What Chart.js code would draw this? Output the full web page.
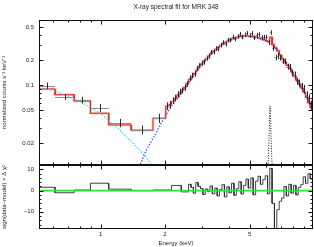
<!DOCTYPE html>
<html>
<head>
<meta charset="utf-8">
<script src="https://cdn.jsdelivr.net/npm/chart.js@4"></script>
<style>
html, body { margin: 0; padding: 0; background: #fff; }
#wrap { width: 314px; height: 247px; }
</style>
</head>
<body>
<div id="wrap"><canvas id="spec" width="314" height="247"></canvas></div>
<script>
// -----------------------------------------------------------------
// axis ranges / tick labels
// -----------------------------------------------------------------
const xMin = 0.513, xMax = 9.93;
const yMin = 0.01086, yMax = 0.607;
const resMin = -18.1, resMax = 12.1;

const xLabelTicks = [1, 2, 5];
const xMinorTicks = [0.6, 0.7, 0.8, 0.9, 3, 4, 6, 7, 8, 9];
const yLabelTicks = [0.02, 0.05, 0.1, 0.2, 0.5];
const yMinorTicks = [0.03, 0.04, 0.06, 0.07, 0.08, 0.09, 0.3, 0.4];
const resLabelTicks = [-10, 0, 10];

// -----------------------------------------------------------------
// soft band: wide bins (edges), data, errors, folded model, residuals
// -----------------------------------------------------------------
const lowEdges = [0.513, 0.61, 0.75, 0.895, 1.09, 1.39, 1.76, 2.02, 2.09];
const lowData  = [0.098, 0.072, 0.066, 0.053, 0.035, 0.029, 0.040, 0.056];
const lowErr   = [0.009, 0.006, 0.006, 0.006, 0.004, 0.0035, 0.005, 0.006];
const lowModel = [0.0895, 0.0764, 0.064, 0.0456, 0.033, 0.0285, 0.0397, 0.0558];
const lowRes   = [1.6, -1.0, 0.3, 3.5, 0.7, 0.0, 0.3, 0.3];

// hard band: bin centres (keV)
const hiEnergy = [2.12, 2.18, 2.24, 2.30, 2.36, 2.42, 2.48, 2.55, 2.62, 2.69,
                  2.76, 2.83, 2.90, 2.98, 3.06, 3.14, 3.22, 3.30, 3.39, 3.48,
                  3.57, 3.66, 3.76, 3.86, 3.96, 4.06, 4.17, 4.28, 4.39, 4.51,
                  4.63, 4.75, 4.87, 5.00, 5.13, 5.27, 5.41, 5.55, 5.70, 5.85,
                  6.00, 6.15, 6.30, 6.46, 6.63, 6.80, 6.98, 7.16, 7.35, 7.54,
                  7.74, 7.94, 8.15, 8.36, 8.58, 8.81, 9.04, 9.28, 9.52, 9.77];
const hiData = [0.058, 0.065, 0.070, 0.077, 0.083, 0.086, 0.093, 0.103, 0.121, 0.130,
                0.136, 0.159, 0.171, 0.183, 0.189, 0.210, 0.222, 0.248, 0.250, 0.275,
                0.273, 0.302, 0.326, 0.311, 0.349, 0.347, 0.380, 0.358, 0.384, 0.410,
                0.380, 0.405, 0.422, 0.396, 0.421, 0.370, 0.401, 0.407, 0.376, 0.378,
                0.378, 0.326, 0.430, 0.278, 0.215, 0.223, 0.213, 0.194, 0.194, 0.167,
                0.165, 0.140, 0.133, 0.111, 0.105, 0.096, 0.090, 0.075, 0.068, 0.057];
const hiErr = [0.006, 0.006, 0.006, 0.007, 0.007, 0.007, 0.008, 0.008, 0.009, 0.010,
               0.010, 0.011, 0.012, 0.013, 0.013, 0.014, 0.015, 0.016, 0.017, 0.018,
               0.018, 0.019, 0.020, 0.020, 0.021, 0.021, 0.022, 0.022, 0.023, 0.024,
               0.023, 0.024, 0.025, 0.024, 0.025, 0.023, 0.024, 0.025, 0.023, 0.024,
               0.024, 0.022, 0.026, 0.020, 0.017, 0.017, 0.016, 0.015, 0.015, 0.014,
               0.014, 0.013, 0.012, 0.011, 0.011, 0.010, 0.010, 0.009, 0.009, 0.008];
const hiModel = [0.058, 0.063, 0.068, 0.074, 0.080, 0.087, 0.094, 0.104, 0.116, 0.127,
                 0.138, 0.150, 0.166, 0.180, 0.194, 0.208, 0.224, 0.240, 0.256, 0.270,
                 0.284, 0.300, 0.313, 0.326, 0.340, 0.352, 0.361, 0.370, 0.379, 0.386,
                 0.389, 0.390, 0.390, 0.389, 0.386, 0.381, 0.376, 0.369, 0.360, 0.351,
                 0.342, 0.334, 0.378, 0.306, 0.280, 0.258, 0.230, 0.205, 0.188, 0.173,
                 0.158, 0.143, 0.128, 0.114, 0.103, 0.092, 0.082, 0.071, 0.061, 0.053];
const hiRes = [0.3, 2.4, 2.4, 2.4, 2.4, -0.6, -0.6, -0.6, 3.0, 1.5,
               -1.2, 3.8, 2.0, 1.0, -1.8, 0.8, -0.5, 2.2, -1.5, 1.2,
               -2.5, 0.5, 2.8, -3.0, 1.8, -1.0, 3.5, -2.2, 0.9, 4.2,
               -1.6, 2.5, 5.5, 1.2, 6.0, -2.0, 4.5, 6.8, 3.0, 5.2,
               7.0, -1.5, 10.5, -6.0, -18, -9, -5, -3.5, 2.0, -2.5,
               3.0, -1.2, 2.5, -2.0, 1.5, 2.8, 6.5, 3.5, 8.0, 5.5];

// model components (unfolded)
const softE = [0.513, 0.58, 0.61, 0.80, 0.99, 1.19, 1.42, 1.60, 1.735, 1.80];
const softY = [0.092, 0.088, 0.085, 0.063, 0.046, 0.031, 0.0198, 0.0145, 0.0108, 0.0095];
const powE = [1.50, 1.53, 1.64, 1.83, 1.90, 2.12, 2.36, 2.63, 2.93, 3.26, 3.63,
              4.05, 4.51, 5.02, 5.60, 6.20, 6.70, 7.17, 7.74, 8.32, 8.94, 9.89];
const powY = [0.0095, 0.0109, 0.0167, 0.027, 0.033, 0.053, 0.076, 0.112, 0.168, 0.232, 0.294,
              0.347, 0.383, 0.385, 0.362, 0.326, 0.268, 0.203, 0.157, 0.113, 0.086, 0.049];
const lineE = [6.05, 6.12, 6.17, 6.21, 6.24, 6.27, 6.31, 6.36, 6.43];
const lineY = [0.008, 0.012, 0.022, 0.043, 0.056, 0.045, 0.024, 0.013, 0.008];

// -----------------------------------------------------------------
// bins table
// -----------------------------------------------------------------
const bins = [];
lowData.forEach((d, i) => {
    const lo = lowEdges[i], hi = lowEdges[i + 1];
    bins.push({ lo, hi, x: Math.sqrt(lo * hi), y: d, err: lowErr[i], model: lowModel[i], res: lowRes[i] });
});
hiEnergy.forEach((e, i) => {
    const lo = i === 0 ? lowEdges[lowEdges.length - 1] : Math.sqrt(hiEnergy[i - 1] * e);
    const hi = i === hiEnergy.length - 1 ? xMax : Math.sqrt(e * hiEnergy[i + 1]);
    bins.push({ lo, hi, x: e, y: hiData[i], err: hiErr[i], model: hiModel[i], res: hiRes[i] });
});

const stepPts = key => bins.flatMap(b => [{ x: b.lo, y: b[key] }, { x: b.hi, y: b[key] }]);
const pairs = (xs, ys) => xs.map((v, i) => ({ x: v, y: ys[i] }));

const FONT = "'Liberation Sans', Arial, sans-serif";
const INK = '#222';

// clip every dataset to its own panel
const panelClip = {
    id: 'panelClip',
    beforeDatasetDraw(chart, args) {
        const ys = args.meta.yScale, a = chart.chartArea;
        chart.ctx.save();
        chart.ctx.beginPath();
        chart.ctx.rect(a.left, ys.top, a.right - a.left, ys.bottom - ys.top);
        chart.ctx.clip();
    },
    afterDatasetDraw(chart) { chart.ctx.restore(); }
};

// data crosses (bin width x error)
const crosses = {
    id: 'crosses',
    afterDatasetsDraw(chart) {
        const { ctx, scales: { x, y } } = chart;
        ctx.save();
        ctx.lineWidth = 1;
        bins.forEach(b => {
            const py = Math.round(y.getPixelForValue(b.y)) + 0.5;
            const cx = Math.round(x.getPixelForValue(b.x)) + 0.5;
            ctx.strokeStyle = '#8c8c8c';
            ctx.beginPath();
            ctx.moveTo(x.getPixelForValue(b.lo), py);
            ctx.lineTo(x.getPixelForValue(b.hi), py);
            ctx.stroke();
            ctx.strokeStyle = '#2a2a2a';
            ctx.beginPath();
            ctx.moveTo(cx, y.getPixelForValue(b.y - b.err));
            ctx.lineTo(cx, y.getPixelForValue(b.y + b.err));
            ctx.stroke();
        });
        ctx.restore();
    }
};

// box round each panel + inward ticks on every side
const frame = {
    id: 'frame',
    afterDraw(chart) {
        const { ctx, chartArea: a, scales } = chart;
        const x = scales.x;
        const L = Math.round(a.left) + 0.5, R = Math.round(a.right) - 0.5;
        ctx.save();
        ctx.strokeStyle = '#111';
        ctx.lineWidth = 1;
        const resMinor = [];
        for (let v = -18; v <= 12; v += 2) resMinor.push(v);
        const panels = [
            { s: scales.y, major: yLabelTicks, minor: yMinorTicks },
            { s: scales.res, major: resLabelTicks, minor: resMinor }
        ];
        const line = (x1, y1, x2, y2) => { ctx.beginPath(); ctx.moveTo(x1, y1); ctx.lineTo(x2, y2); ctx.stroke(); };
        panels.forEach(p => {
            const T = Math.round(p.s.top) + 0.5, B = Math.round(p.s.bottom) - 0.5;
            ctx.strokeRect(L, T, R - L, B - T);
            const xt = (v, len) => {
                const px = Math.round(x.getPixelForValue(v)) + 0.5;
                line(px, T, px, T + len);
                line(px, B, px, B - len);
            };
            xLabelTicks.forEach(v => xt(v, 4));
            xMinorTicks.forEach(v => xt(v, 2));
            const yt = (v, len) => {
                const py = Math.round(p.s.getPixelForValue(v)) + 0.5;
                if (py < T || py > B) return;
                line(L, py, L + len, py);
                line(R, py, R - len, py);
            };
            p.major.forEach(v => yt(v, 4));
            p.minor.forEach(v => yt(v, 2));
        });
        ctx.restore();
    }
};

const tickFont = { family: FONT, size: 6 };
const titleFont = { family: FONT, size: 6 };

new Chart(document.getElementById('spec'), {
    type: 'line',
    data: {
        datasets: [
            { data: pairs(powE, powY), yAxisID: 'y', borderColor: '#3b3bff', borderWidth: 1.4, borderDash: [1.2, 1.8] },
            { data: pairs(softE, softY), yAxisID: 'y', borderColor: '#22e0e8', borderWidth: 1.4, borderDash: [1.2, 1.8] },
            { data: pairs(lineE, lineY), yAxisID: 'y', borderColor: '#111', borderWidth: 1, borderDash: [1, 1.5] },
            { data: stepPts('model'), yAxisID: 'y', borderColor: '#e5241c', borderWidth: 1 },
            { data: stepPts('model'), yAxisID: 'y', borderColor: 'rgba(255,120,120,0.45)', borderWidth: 2.6 },
            { data: [{ x: xMin, y: 0 }, { x: xMax, y: 0 }], yAxisID: 'res', borderColor: '#3bdc3b', borderWidth: 1.6 },
            { data: stepPts('res'), yAxisID: 'res', borderColor: '#2b2b2b', borderWidth: 0.9 }
        ]
    },
    options: {
        responsive: false,
        animation: false,
        devicePixelRatio: 1,
        elements: { point: { radius: 0 }, line: { tension: 0 } },
        layout: { padding: { right: 1 } },
        plugins: {
            legend: { display: false },
            tooltip: { enabled: false },
            title: {
                display: true,
                fullSize: false,
                text: 'X-ray spectral fit for MRK 348',
                font: { family: FONT, size: 6.5, weight: 'normal' },
                color: INK,
                padding: { top: 3, bottom: 9.2 }
            }
        },
        scales: {
            x: {
                type: 'logarithmic', position: 'bottom', min: xMin, max: xMax,
                afterBuildTicks: s => { s.ticks = xLabelTicks.map(v => ({ value: v })); },
                afterFit: s => { s.height = 18; },
                ticks: { font: tickFont, color: INK, padding: 2, autoSkip: false, maxRotation: 0, callback: v => String(v) },
                grid: { display: false, drawTicks: false },
                border: { display: false },
                title: { display: true, text: 'Energy (keV)', font: titleFont, color: INK, padding: 0 }
            },
            res: {
                type: 'linear', position: 'left', stack: 'panel', stackWeight: 64, min: resMin, max: resMax,
                afterBuildTicks: s => { s.ticks = resLabelTicks.map(v => ({ value: v })); },
                afterFit: s => { s.width = 39; },
                ticks: { font: tickFont, color: INK, padding: 5, callback: v => String(v).replace('-', '\u2212') },
                grid: { display: false, drawTicks: false },
                border: { display: false },
                title: { display: true, text: 'sign(data\u2212model) \u00d7 \u0394 \u03c7\u00b2', font: titleFont, color: INK, padding: 1 }
            },
            y: {
                type: 'logarithmic', position: 'left', stack: 'panel', stackWeight: 145, min: yMin, max: yMax,
                afterBuildTicks: s => { s.ticks = yLabelTicks.map(v => ({ value: v })); },
                afterFit: s => { s.width = 39; },
                ticks: { font: tickFont, color: INK, padding: 5, callback: v => String(v) },
                grid: { display: false, drawTicks: false },
                border: { display: false },
                title: { display: true, text: 'normalized counts s\u207b\u00b9 keV\u207b\u00b9', font: titleFont, color: INK, padding: 1 }
            }
        }
    },
    plugins: [panelClip, crosses, frame]
});
</script>
</body>
</html>
